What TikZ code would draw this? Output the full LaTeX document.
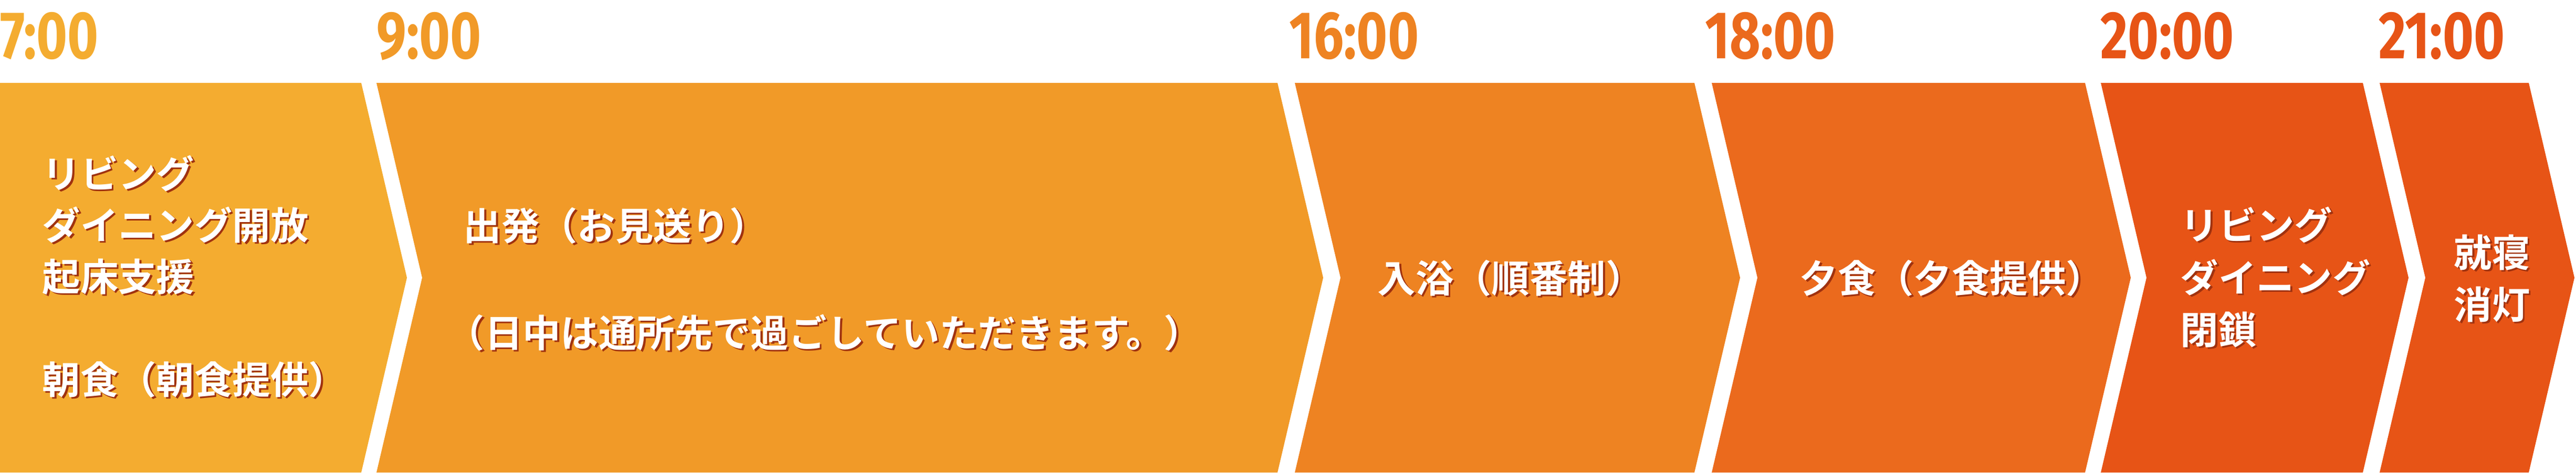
\documentclass[tikz,border=0pt]{standalone}
\usepackage{fontspec}
\newfontfamily\jpfont[UprightFont=* Bold]{Noto Sans CJK JP}
\newfontfamily\timefont[FakeStretch=0.79]{Fira Sans}
\definecolor{orange1}{RGB}{244,172,48}
\definecolor{orange2}{RGB}{241,154,40}
\definecolor{orange3}{RGB}{238,131,34}
\definecolor{orange4}{RGB}{235,106,29}
\definecolor{orange5}{RGB}{231,84,22}
\definecolor{shade}{RGB}{160,50,15}
\tikzset{
  hour/.style={anchor=base west, inner sep=0pt, font=\timefont\bfseries\fontsize{36.4pt}{36pt}\selectfont},
  jtext/.style={anchor=west, inner sep=0pt, text=white, text height=18.1pt, text depth=2.5pt,
    font=\jpfont\fontsize{20.6pt}{24pt}\selectfont}
}
% white text with a small dark shadow
\newcommand{\jline}[3]{%
  \node[jtext, text=shade, xshift=1pt, yshift=-1pt] at (#2) {#3};
  \node[jtext] (#1) at (#2) {#3};}

\begin{document}
\begin{tikzpicture}
\useasboundingbox (0,0) rectangle (49.06,9);
% chevrons
\fill[orange1] (0,0) -- (0,7.42) -- (6.88,7.42) -- (7.75,3.71) -- (6.88,0) -- cycle;
\fill[orange2] (7.17,0) -- (8.04,3.71) -- (7.17,7.42) -- (24.33,7.42) -- (25.20,3.71) -- (24.33,0) -- cycle;
\fill[orange3] (24.66,0) -- (25.53,3.71) -- (24.66,7.42) -- (32.27,7.42) -- (33.14,3.71) -- (32.27,0) -- cycle;
\fill[orange4] (32.60,0) -- (33.47,3.71) -- (32.60,7.42) -- (39.71,7.42) -- (40.58,3.71) -- (39.71,0) -- cycle;
\fill[orange5] (40.01,0) -- (40.88,3.71) -- (40.01,7.42) -- (45.00,7.42) -- (45.87,3.71) -- (45.00,0) -- cycle;
\fill[orange5] (45.32,0) -- (46.19,3.71) -- (45.32,7.42) -- (48.16,7.42) -- (49.03,3.71) -- (48.16,0) -- cycle;
% hours
\node[hour, text=orange1] (t7) at (0,7.88) {7:00};
\node[hour, text=orange2] (t9) at (7.17,7.88) {9:00};
\node[hour, text=orange3] (t16) at (24.55,7.88) {16:00};
\node[hour, text=orange4] (t18) at (32.47,7.88) {18:00};
\node[hour, text=orange5] (t20) at (40.00,7.88) {20:00};
\node[hour, text=orange5] (t21) at (45.30,7.88) {21:00};
% texts
\jline{a1}{0.80,5.69}{リビング}
\jline{a2}{0.80,4.71}{ダイニング開放}
\jline{a3}{0.80,3.73}{起床支援}
\jline{a4}{0.80,1.77}{朝食（朝食提供）}
\jline{b1}{8.82,4.70}{出発（お見送り）}
\jline{b2}{8.50,2.66}{（日中は通所先で過ごしていただきます。）}
\jline{c1}{26.23,3.70}{入浴（順番制）}
\jline{d1}{34.27,3.70}{夕食（夕食提供）}
\jline{e1}{41.52,4.71}{リビング}
\jline{e2}{41.52,3.71}{ダイニング}
\jline{e3}{41.52,2.72}{閉鎖}
\jline{f1}{46.73,4.19}{就寝}
\jline{f2}{46.73,3.20}{消灯}
\end{tikzpicture}
\end{document}
